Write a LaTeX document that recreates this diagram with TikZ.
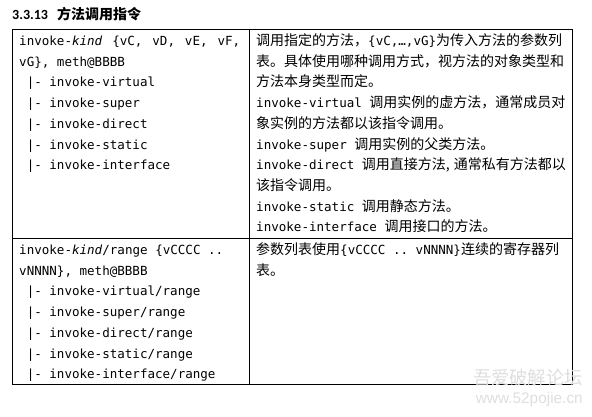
\documentclass[tikz,border=0pt]{standalone}
\usepackage{fontspec}
\setmonofont{DejaVu Sans Mono}[Scale=0.896]
\newfontfamily\cjk{Noto Sans CJK SC}
\newfontfamily\carlito{Carlito}
\newfontfamily\wmfont{Liberation Sans}
\newcommand\insn[1]{\texttt{#1}}
\newcommand\subop{\phantom{x}|-\ }

\begin{document}
\begin{tikzpicture}[x=1pt, y=-1pt,
txt/.style={anchor=base west, inner sep=0pt, font=\cjk\fontsize{14}{20.72}\selectfont},
code/.style={txt, font=\ttfamily\fontsize{14}{20.72}\selectfont},
grid/.style={line width=1pt}]
\useasboundingbox (0,0) rectangle (592,416);

% title
\node[anchor=base west, inner sep=0pt, font=\bfseries\fontsize{14}{16}\selectfont] (title) at (12,19.5) {\carlito 3.3.13\hspace{9pt}\cjk 方法调用指令};

% table frame
\coordinate (tl) at (12,29);
\coordinate (br) at (572,384);
\coordinate (midtop) at (249,29);
\coordinate (midbot) at (249,384);
\coordinate (rowl) at (12,238);
\coordinate (rowr) at (572,238);
\draw[grid] (tl) rectangle (br);
\draw[grid] (midtop) -- (midbot);
\draw[grid] (rowl) -- (rowr);

% first row
\foreach \t [count=\i from 0] in {{\makebox[221pt][l]{invoke-\textit{kind} \hfill\{vC, \hfill vD, \hfill vE, \hfill vF,}}, {vG\}, meth@BBBB}, {\subop invoke-virtual}, {\subop invoke-super}, {\subop invoke-direct}, {\subop invoke-static}, {\subop invoke-interface}}
  \node[code] (kind-\i) at (19,45.4+20.72*\i) {\t};
\foreach \t [count=\i from 0] in {{调用指定的方法，\insn{\{vC,…,vG\}}为传入方法的参数列}, {表。具体使用哪种调用方式，视方法的对象类型和}, {方法本身类型而定。}, {\insn{invoke-virtual }调用实例的虚方法，通常成员对}, {象实例的方法都以该指令调用。}, {\insn{invoke-super }调用实例的父类方法。}, {\insn{invoke-direct }调用直接方法,\hspace{4pt}通常私有方法都以}, {该指令调用。}, {\insn{invoke-static }调用静态方法。}, {\insn{invoke-interface }调用接口的方法。}}
  \node[txt] (desc-\i) at (256,45.4+20.72*\i) {\t};

% second row
\foreach \t [count=\i from 0] in {{invoke-\textit{kind}/range \{vCCCC ..}, {vNNNN\}, meth@BBBB}, {\subop invoke-virtual/range}, {\subop invoke-super/range}, {\subop invoke-direct/range}, {\subop invoke-static/range}, {\subop invoke-interface/range}}
  \node[code] (range-\i) at (19,254.4+20.72*\i) {\t};
\foreach \t [count=\i from 0] in {{参数列表使用\insn{\{vCCCC .. vNNNN\}}连续的寄存器列}, {表。}}
  \node[txt] (rdesc-\i) at (256,254.4+20.72*\i) {\t};

% watermark
\node[anchor=base east, inner sep=0pt, text=black!13, font=\cjk\fontsize{18.3}{20}\selectfont] (wm-cn) at (583,384.5) {吾爱破解论坛};
\node[anchor=base east, inner sep=0pt, text=black!13, font=\wmfont\fontsize{15.4}{18}\selectfont] (wm-url) at (583,403) {www.52pojie.cn};
\end{tikzpicture}
\end{document}
